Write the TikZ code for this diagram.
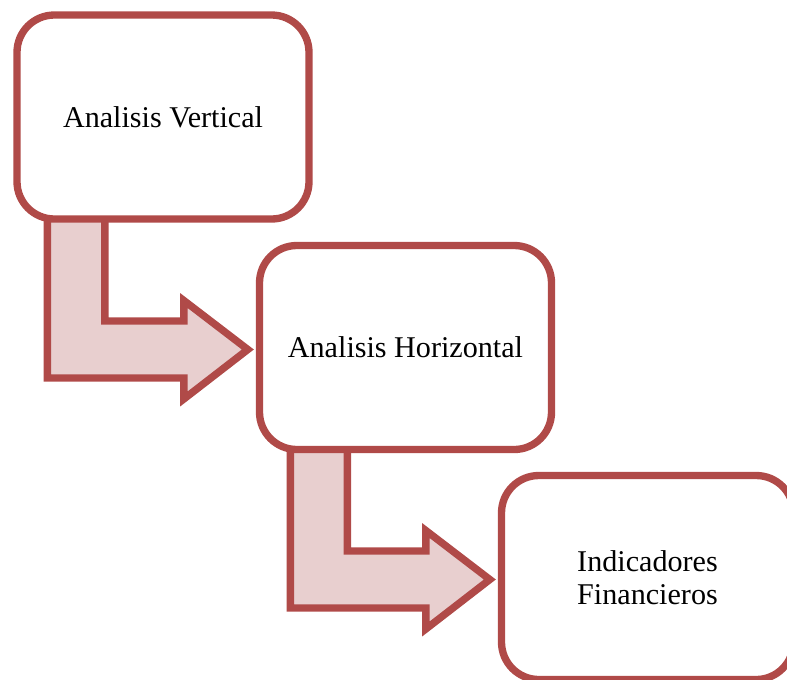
\documentclass[tikz,border=0pt]{standalone}
\usepackage{fontspec}
\setmainfont{Liberation Serif}
\usetikzlibrary{calc,shadows,backgrounds}
\definecolor{boxred}{RGB}{176,74,72}
\definecolor{arrowpink}{RGB}{232,207,207}
\tikzset{
  stagebox/.style={draw=boxred, line width=5.5pt, fill=white, rounded corners=28pt,
    minimum width=219pt, minimum height=153pt, align=center,
    font=\fontsize{22.6}{25}\selectfont,
    drop shadow={opacity=0.18, shadow xshift=1.5pt, shadow yshift=-2pt}},
  bentarrow/.style={draw=boxred, line width=5.5pt, fill=arrowpink, line join=miter,
    drop shadow={opacity=0.18, shadow xshift=1.5pt, shadow yshift=-2pt}}
}

\begin{document}
\begin{tikzpicture}[x=0.75pt,y=-0.75pt]
    \clip (0,0) rectangle (787,679);
    \node [stagebox] (va) at (163,117) {Analisis Vertical};
    \node [stagebox] (ha) at (405.5,347.5) {Analisis Horizontal};
    \node [stagebox] (fi) at (647.5,577.5) {Indicadores\\Financieros};
    \coordinate (t1) at ($(ha.west)+(-8,2)$);
    \coordinate (t2) at ($(fi.west)+(-8,2)$);
    \begin{scope}[on background layer]
    \draw [bentarrow] ($(va.south west)+(34,-10)$) |- ($(t1)+(-64,28.5)$)
        -- ++(0,21) -- (t1) -- ++(-64,-49) -- ++(0,20.5)
        -| ($(va.south west)+(91.5,-10)$) -- cycle;
    \draw [bentarrow] ($(ha.south west)+(34.5,-10)$) |- ($(t2)+(-64,28.5)$)
        -- ++(0,21) -- (t2) -- ++(-64,-49) -- ++(0,20.5)
        -| ($(ha.south west)+(91.5,-10)$) -- cycle;
    \end{scope}
\end{tikzpicture}
\end{document}
